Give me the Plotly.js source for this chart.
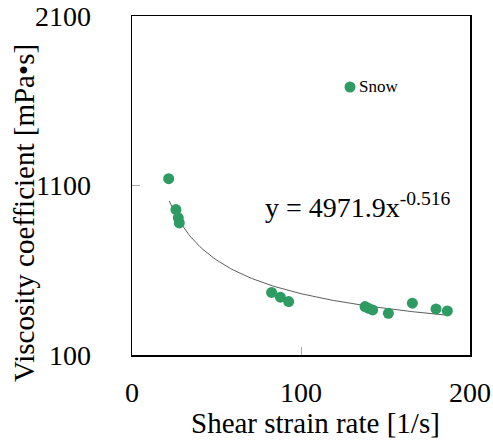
<!DOCTYPE html>
<html>
<head>
<meta charset="utf-8">
<script src="https://cdn.plot.ly/plotly-3.0.1.min.js"></script>
<style>html,body{margin:0;padding:0;background:#fff;}#chart{width:493px;height:440px;}</style>
</head>
<body>
<div id="chart"></div>
<script>
// Data
const shearRate = [21.7, 26.0, 27.4, 28.0, 82.6, 87.8, 92.7, 137.9, 139.8, 142.4, 151.7, 165.9, 179.9, 186.6];
const viscosity = [1140, 958, 909, 879, 469, 441, 415, 386, 376, 366, 346, 406, 372, 360];
const seriesName = 'Snow';
const fitA = 4971.9, fitB = -0.516;
const fitRange = [22, 187];
const xTicks = [0, 100, 200];
const yTicks = [100, 1100, 2100];
const xTitle = 'Shear strain rate [1/s]';
const yTitle = 'Viscosity coefficient [mPa\u2022s]';

const fitX = [], fitY = [];
for (let i = 0; i <= 100; i++) {
  const x = fitRange[0] + (fitRange[1] - fitRange[0]) * i / 100;
  fitX.push(x); fitY.push(fitA * Math.pow(x, fitB));
}
const green = '#2E9B63';
const serif = 'Liberation Serif, Times New Roman, serif';

const traces = [
  {x: fitX, y: fitY, mode: 'lines', line: {color: '#333', width: 0.8}, showlegend: false, hoverinfo: 'skip'},
  {x: shearRate, y: viscosity, mode: 'markers', name: seriesName, marker: {color: green, size: 11}, showlegend: false}
];

const axisCommon = {
  showgrid: false, zeroline: false, showline: true, mirror: true, linecolor: '#000', linewidth: 1.5,
  ticks: 'inside', ticklen: 8, tickcolor: '#aaa', tickwidth: 1,
  tickfont: {family: serif, size: 28, color: '#000'}, tickmode: 'array'
};

// plot area in pixels: left 132, right 470, top 16, bottom 355
const W = 493, H = 440, L = 132, R = 23, T = 16, B = 85;
const pw = W - L - R, ph = H - T - B;
const px = v => (v - L) / pw;          // pixel x -> paper x
const py = v => (H - B - v) / ph;      // pixel y -> paper y

const layout = {
  width: W, height: H,
  margin: {l: L, r: R, t: T, b: B},
  paper_bgcolor: '#fff', plot_bgcolor: '#fff',
  font: {family: serif, color: '#000'},
  xaxis: Object.assign({}, axisCommon, {range: [0, 200], tickvals: xTicks, ticktext: xTicks.map(String), ticklabelstandoff: 12}),
  yaxis: Object.assign({}, axisCommon, {range: [100, 2100], tickvals: yTicks, ticktext: yTicks.map(String), ticklabelstandoff: 34}),
  shapes: [
    {type: 'circle', xref: 'paper', yref: 'paper', xsizemode: 'pixel', ysizemode: 'pixel',
     xanchor: px(350), yanchor: py(87), x0: -5.5, x1: 5.5, y0: -5.5, y1: 5.5,
     fillcolor: green, line: {width: 0}}
  ],
  annotations: [
    {xref: 'paper', yref: 'paper', x: px(357), y: py(87), xanchor: 'left', yanchor: 'middle', showarrow: false,
     text: seriesName, font: {family: serif, size: 17, color: '#000'}},
    {xref: 'paper', yref: 'paper', x: px(263), y: py(205), xanchor: 'left', yanchor: 'middle', showarrow: false,
     text: 'y = ' + fitA + 'x<sup>' + fitB + '</sup>', font: {family: serif, size: 28, color: '#000'}},
    {xref: 'paper', yref: 'paper', x: px(315), y: py(423), xanchor: 'center', yanchor: 'middle', showarrow: false,
     text: xTitle, font: {family: serif, size: 29, color: '#000'}},
    {xref: 'paper', yref: 'paper', x: px(24), y: py(213), xanchor: 'center', yanchor: 'middle', showarrow: false,
     textangle: -90, text: yTitle, font: {family: serif, size: 29, color: '#000'}}
  ]
};

Plotly.newPlot('chart', traces, layout, {displayModeBar: false, staticPlot: true});
</script>
</body>
</html>
